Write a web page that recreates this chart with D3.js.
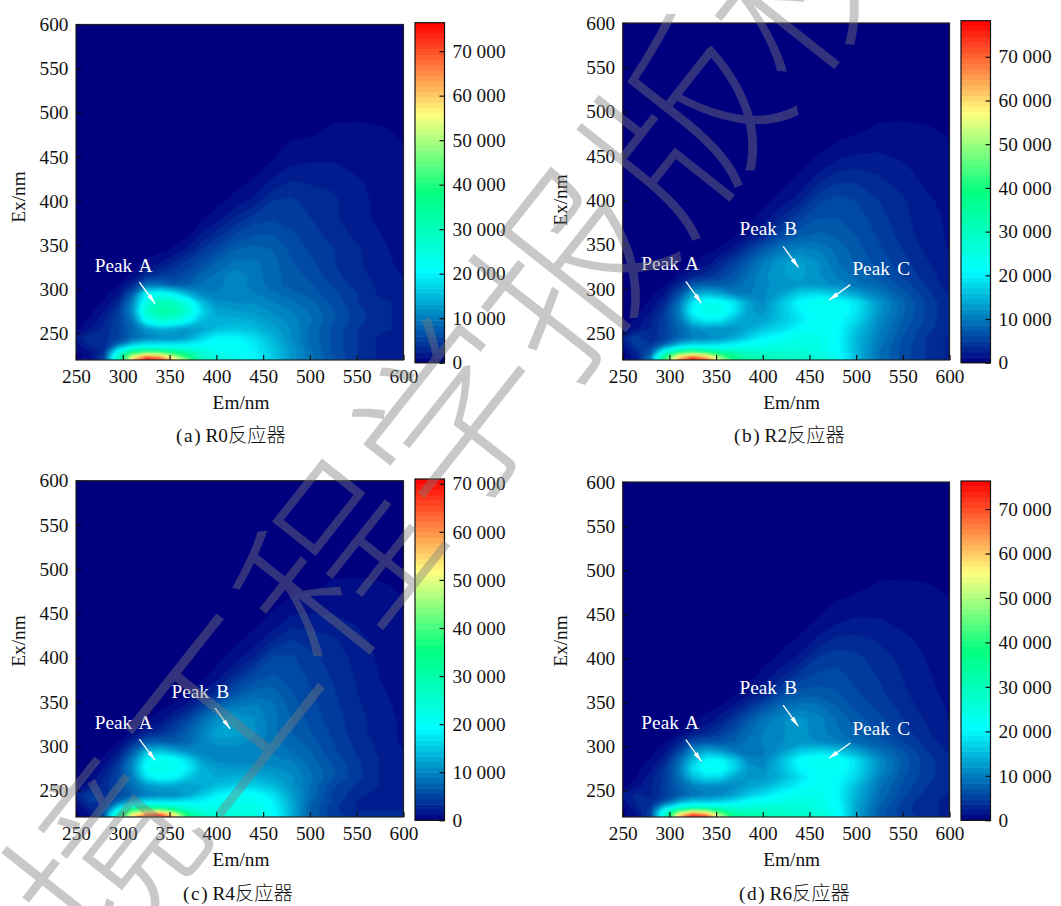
<!DOCTYPE html>
<html>
<head>
<meta charset="utf-8">
<script src="https://cdn.jsdelivr.net/npm/d3@7"></script>
<style>
body { margin: 0; background: #fff; }
text { font-family: "Liberation Serif", serif; }
</style>
</head>
<body>
<svg id="chart" width="1061" height="906"></svg>
<script>
// Grid of the EEM maps, values in units of 1000
const emGrid = [250,265,280,295,310,325,340,355,370,385,400,420,440,460,480,500,525,550,575,600];
const exGrid = [220,224,228,232,238,245,255,265,275,285,295,305,315,330,345,360,380,400,420,440,460,480,500,600];
const emTicks = [250,300,350,400,450,500,550,600];
const exTicks = [250,300,350,400,450,500,550,600];
const barTicks = [0,10000,20000,30000,40000,50000,60000,70000];

const r0Values = [
  [0,1,5,30,60,76,72,58,45,30,25,23,21,17,12,9,6.5,4,2.5,2],
  [0,1,5,28,52,66,62,50,38,28,24,22,20,16,12,9,6.5,4,2.5,2],
  [0,1,4,24,40,46,44,38,34,26,23,22,20,16,12,9,6,4,2.5,2],
  [.5,2,3,18,28,30,30,28,26,24,22,21,19,16,12,9,6,4,2.5,2],
  [1,3,3,8,15,18,18,18,19,20,21,21,19,15,11.5,8.5,6,4,2.5,2],
  [2,4,3.5,5,8,10,11,11,13,17,20,20,18,14.5,11,8.5,6,4,2.5,2],
  [0,1.5,3,5,8,12,14,13,12,13,15,16,15,13,11,8.5,6,4,3,2.5],
  [0,.5,2.5,5,9,22,27,25,21,15,14,14,13.5,12,10.5,9,6.5,4.5,3,2.5],
  [0,0,1.5,4.5,11,27,33,32,26,17,13,12.5,12,11,10,8.5,6.5,4.5,3,2.5],
  [0,0,.5,3,10,24,31,29,24,15,11.5,11,11,10,9,8,6,4,3,2.5],
  [0,0,0,1.5,7,20,22,19,14,10.5,10,10,10,9,8,7,5.5,4,2.5,2],
  [0,0,0,.3,3,9,9,7,7.5,9,9.5,10.5,9.5,8,7,6.5,5,3.5,2.5,1.5],
  [0,0,0,0,.5,3.5,4.5,5,6,8,9,11,9.5,8,7,6,4.5,3,2.5,1.5],
  [0,0,0,0,0,.5,1.5,3,4.5,6,7.5,9,9,8,6.5,5.5,4,3,2,1.2],
  [0,0,0,0,0,0,0,.5,2,4,5.5,7.5,8,7.5,6,5,4,3,1.8,1.1],
  [0,0,0,0,0,0,0,0,.3,2,3.5,5.5,6.5,6.5,5.5,4.5,3.5,2.5,1.6,1],
  [0,0,0,0,0,0,0,0,0,.2,1,3,4.5,5,4.5,4,3,2,1.3,.9],
  [0,0,0,0,0,0,0,0,0,0,0,.7,2,4,4.2,3.5,3,2,1.2,.9],
  [0,0,0,0,0,0,0,0,0,0,0,.1,.5,2,3,2.7,2.5,1.8,1,.8],
  [0,0,0,0,0,0,0,0,0,0,0,0,.1,.5,1.5,1.7,1.7,1.2,.9,.6],
  [0,0,0,0,0,0,0,0,0,0,0,0,0,.1,.6,.8,1,1,.7,.4],
  [0,0,0,0,0,0,0,0,0,0,0,0,0,0,0,.1,.6,.7,.5,.2],
  [0,0,0,0,0,0,0,0,0,0,0,0,0,0,0,0,0,0,0,0],
  [0,0,0,0,0,0,0,0,0,0,0,0,0,0,0,0,0,0,0,0]
];
const r2Values = [
  [0,2,10,42,66,78,70,52,38,33,31,30,29,27,23,15,9,6,4,2.5],
  [0,2.5,9,38,58,68,60,46,36,32,30,29,28,26,22,15,9,6,4,2.5],
  [0,3,7,28,42,46,42,36,32,30,28,28,27,25,22,15,9,6,4,2.5],
  [.5,4,6,18,26,29,28,27,26,26,26,26,26,24,21,15,9,6,4,2.5],
  [1.5,5,4,8,14,17,17,18,20,22,23,24,25,24,21,15,9.5,6,4,2.5],
  [3,5,3,5,8,10,11,12,14,17,20,22,24,24,21,15,10,6.5,4,2.5],
  [0,1.5,3,5,8,11,12,12,12,14,16,18,21,23,21,16,10.5,7,4.5,3],
  [0,.5,2.5,5,9,17,20,19,15,13,13,16,19,22,21,18,11,7.5,5,3],
  [0,0,1.5,4.5,10,21,24,24,19,13,12,16,20,22,22,19,12,8,5,3],
  [0,0,.5,3,9,19,23,22,19,13,11,16,21,23,22,19,12,8,5,3],
  [0,0,0,1.5,6,13,15,13,10,10,11,13,17,18,16,13,10,7,4.5,2.5],
  [0,0,0,.2,3,7,7.5,7.5,8,9.5,11,12,12.5,12,11,9.5,8,6,4,2],
  [0,0,0,0,.5,2.5,3.5,5,7,9,11,12.5,13,11.5,10,8.5,7,5,3.5,2],
  [0,0,0,0,0,.3,1,3,5,7.5,10,12.5,13,11.5,9,7.5,6,4.5,3,1.7],
  [0,0,0,0,0,0,0,.5,2,4.5,7,9.5,10.5,10,8.5,7,5.5,4,2.5,1.5],
  [0,0,0,0,0,0,0,0,.3,1.5,3,6,7.5,8,7.5,6.5,5,3.5,2.2,1.4],
  [0,0,0,0,0,0,0,0,0,0,.8,3,5,6.5,6.5,6,4.5,3.2,2,1.4],
  [0,0,0,0,0,0,0,0,0,0,0,.8,2.5,5,5.8,5.2,4,3,1.8,1.2],
  [0,0,0,0,0,0,0,0,0,0,0,.1,.7,2.8,4,4,3.2,2.3,1.4,1],
  [0,0,0,0,0,0,0,0,0,0,0,0,.1,.8,2,2.5,2.2,1.7,1.1,.8],
  [0,0,0,0,0,0,0,0,0,0,0,0,0,.1,.6,1,1.3,1.1,.8,.5],
  [0,0,0,0,0,0,0,0,0,0,0,0,0,0,0,.1,.6,.7,.5,.2],
  [0,0,0,0,0,0,0,0,0,0,0,0,0,0,0,0,0,0,0,0],
  [0,0,0,0,0,0,0,0,0,0,0,0,0,0,0,0,0,0,0,0]
];
const r4Values = [
  [0,1,6,28,54,66,71,56,36,26,24,24,23,20,13,7,4,3.5,3.5,3.5],
  [0,1.5,6,26,48,58,60,48,32,25,23,24,23,20,13,7,4,3,3,3],
  [0,2,5,20,36,40,40,34,27,23,22,23,22,19,13,7,4,2.5,2.5,2.5],
  [.5,3,4,14,24,27,27,25,22,21,21,22,22,19,13,7,4,2.5,2,2],
  [1,4,3.5,7,13,16,16,16,17,18,20,21,21,18,12.5,7.5,4.5,2.5,2,2],
  [2.5,4.5,3,5,7,9,10,10,12,15,18,20,20,17,12,8,4.5,3,2,2],
  [0,1.5,3,5,8,11,12,12,11.5,12.5,14,15.5,15.5,14,11,8,5,3.5,2.5,2],
  [0,.5,2.5,5,9,17,20,19,15,13,12.5,13,13,12,10.5,8.5,6,4,2.5,2],
  [0,0,1.5,4.5,10,20,22,21,18,13,11.5,11,11,10.5,10,8,6,4,2.5,2],
  [0,0,.5,3,9,18,21,20,16,11.5,10,9.5,9.5,9.5,9,7.5,5.5,3.8,2.5,1.8],
  [0,0,0,1.5,6,13,14,12,10,9.5,9.5,9.5,9.5,9,8,7,5,3.5,2.3,1.5],
  [0,0,0,.2,3,6.5,7,6.5,7.5,9.5,11,11,10,8.5,7.5,6.5,4.8,3.3,2.2,1.2],
  [0,0,0,0,.5,2.5,3.5,5,7,9.5,12,12,10.5,8.5,7,6,4.5,3,2,1.2],
  [0,0,0,0,0,.3,1,3,5,8,10.5,11.5,10.5,8.5,7,5.5,4.2,3,2,1.2],
  [0,0,0,0,0,0,0,.5,2,4.5,7,9,9.5,8.5,6.5,5.2,4,2.8,1.8,1.1],
  [0,0,0,0,0,0,0,0,.3,1.5,3,6,7.5,7.5,6,5,3.8,2.6,1.6,1],
  [0,0,0,0,0,0,0,0,0,0,.8,3,5,6,5.5,4.5,3.5,2.4,1.4,.9],
  [0,0,0,0,0,0,0,0,0,0,0,.8,2.5,5,5,4,3.2,2.2,1.2,.9],
  [0,0,0,0,0,0,0,0,0,0,0,.1,.7,2.5,3.7,3.3,2.7,1.9,1,.8],
  [0,0,0,0,0,0,0,0,0,0,0,0,.1,.7,2,2,1.8,1.3,.9,.6],
  [0,0,0,0,0,0,0,0,0,0,0,0,0,.1,.6,.9,1,1,.7,.4],
  [0,0,0,0,0,0,0,0,0,0,0,0,0,0,0,.1,.6,.7,.5,.2],
  [0,0,0,0,0,0,0,0,0,0,0,0,0,0,0,0,0,0,0,0],
  [0,0,0,0,0,0,0,0,0,0,0,0,0,0,0,0,0,0,0,0]
];
const r6Values = [
  [0,1,5,26,62,76,72,52,35,32,31,29,27,26,22,13,7,5,3.5,2.5],
  [0,1.5,5,26,52,66,60,44,33,31,30,28,27,26,22,13,7,4.5,3,2.5],
  [0,2,4.5,22,36,42,40,34,29,28,28,27,26,25,21,13,7,4.5,3,2.5],
  [.3,2.5,4,14,22,25,25,24,24,25,25,26,26,24,21,13,7.5,4.5,3,2.5],
  [1,3,3,6.5,12,15,15,16,18,21,22,23,24,24,20,13.5,8,5,3,2.5],
  [2,3,2.5,4.5,7,9,10,11,13,16,18,21,23,23,20,14,8.5,5.5,3.5,2.5],
  [0,1,2.5,4.5,7.5,10,11,11,11,13,14,17,20,22,20,15,9,6,4,3],
  [0,.3,2.2,4.5,8.5,15,18,17,13,12,12,14,18,21,20.5,17,10,6.5,4.5,3],
  [0,0,1.3,4,9,18,22,22,17,12,11,15,20,22,22,18,11,7,4.5,3],
  [0,0,.4,2.5,8,15,20,20,16,10.5,10,15,21,23,22,18,11,7,4.5,3],
  [0,0,0,1.2,5,11,13.5,12,9.5,9,9.5,12,16,17,16,13,9,6.5,4,2.5],
  [0,0,0,.2,2.5,6,6.5,6.5,7.5,9,10,11,11.5,11,10,8.5,7,5.3,3.5,2],
  [0,0,0,0,.4,2,3,4.5,6.5,8.5,10,11,11.5,10.5,9,7.5,6,4.5,3,1.7],
  [0,0,0,0,0,.2,.8,2.5,4.5,7,9,11,11.5,10.5,8.5,7,5.5,4,2.6,1.5],
  [0,0,0,0,0,0,0,.4,1.8,4,6,8.5,9.5,9,7.5,6,4.8,3.5,2.2,1.4],
  [0,0,0,0,0,0,0,0,.2,1.2,2.5,5.5,6.8,7,6.5,5.3,4.2,3,1.9,1.2],
  [0,0,0,0,0,0,0,0,0,0,.7,2.5,4.5,5.5,5.5,4.8,3.8,2.7,1.7,1.1],
  [0,0,0,0,0,0,0,0,0,0,0,.6,2,4.2,4.8,4.3,3.3,2.4,1.5,1],
  [0,0,0,0,0,0,0,0,0,0,0,.1,.5,2,3.2,3.2,2.6,1.9,1.2,.9],
  [0,0,0,0,0,0,0,0,0,0,0,0,.1,.5,1.5,1.9,1.7,1.3,1,.7],
  [0,0,0,0,0,0,0,0,0,0,0,0,0,.1,.5,.9,1.1,1,.8,.5],
  [0,0,0,0,0,0,0,0,0,0,0,0,0,0,0,.1,.6,.7,.5,.2],
  [0,0,0,0,0,0,0,0,0,0,0,0,0,0,0,0,0,0,0,0],
  [0,0,0,0,0,0,0,0,0,0,0,0,0,0,0,0,0,0,0,0]
];

// Annotations in Em/Ex coordinates: [label, textEm, textEx, fromEm, fromEx, toEm, toEx]
const r0Peaks = [["Peak A",270,320,317.7,308.3,334.5,284]];
const r2Peaks = [
  ["Peak A",270,321,317.6,308.7,334.3,284],
  ["Peak B",375,361,421.8,348,438.2,324.5],
  ["Peak C",496,315.5,493.8,305,471,287.5]
];
const r4Peaks = [
  ["Peak A",270,320,317.7,308,334.5,284],
  ["Peak B",352,354.7,398.6,343.4,414.6,319.6]
];
const r6Peaks = [
  ["Peak A",270,320,317.6,307.7,334.3,283],
  ["Peak B",375,359,421.8,347,437.9,323],
  ["Peak C",496,313.5,493.8,304,471,286.6]
];

const barMax = [76400, 78260, 71000, 76300];
const captions = ["(\u200aa\u200a) R0", "(\u200ab\u200a) R2", "(\u200ac\u200a) R4", "(\u200ad\u200a) R6"];
const captionSuffix = "反应器";
const watermark = ["境", "工", "程", "学", "报", "版", "权"];

// Colour stops of the colorbar, as fraction of its top value
const colorStops = [0, .27, .5, .73, 1];
const colorValues = ["#00007f", "#00ffff", "#00ff7f", "#ffff7f", "#ff0000"];
const levelCount = 64;

const panels = [
  { values: r0Values, peaks: r0Peaks, left: 76, right: 403.5, top: 24.5, bottom: 360, barLeft: 415, barTop: 22.7, barBottom: 362.7,
    exLabelX: 25, exLabelY: 197, emLabelX: 241, emLabelY: 409, capX: 176, capY: 441.5 },
  { values: r2Values, peaks: r2Peaks, left: 622.7, right: 949.5, top: 23, bottom: 360, barLeft: 961, barTop: 20.7, barBottom: 362.7,
    exLabelX: 567, exLabelY: 200, emLabelX: 791.7, emLabelY: 409, capX: 734, capY: 441.5 },
  { values: r4Values, peaks: r4Peaks, left: 76, right: 403.5, top: 480.7, bottom: 817, barLeft: 415, barTop: 479, barBottom: 820.3,
    exLabelX: 25, exLabelY: 641, emLabelX: 241, emLabelY: 865.7, capX: 183, capY: 900.3 },
  { values: r6Values, peaks: r6Peaks, left: 622.7, right: 949.5, top: 482, bottom: 817, barLeft: 961, barTop: 481, barBottom: 820.3,
    exLabelX: 567, exLabelY: 641, emLabelX: 791.7, emLabelY: 865.7, capX: 739, capY: 900.3 }
];

const svg = d3.select("#chart");
const barWidth = 29.5;
const fontSize = 19.3;

const defs = svg.append("defs");
defs.append("filter").attr("id", "soften")
  .attr("x", "-5%").attr("y", "-5%").attr("width", "110%").attr("height", "110%")
  .append("feGaussianBlur").attr("stdDeviation", 1.3);
const arrowHead = defs.append("marker").attr("id", "arrow")
  .attr("viewBox", "0 0 10 6").attr("refX", 10).attr("refY", 3)
  .attr("markerUnits", "userSpaceOnUse").attr("markerWidth", 10).attr("markerHeight", 6)
  .attr("orient", "auto");
arrowHead.append("path").attr("d", "M0,0.6L10,3L0,5.4Z").attr("fill", "#fff");

// Repeat the border of the grid outside the frame, so the blur does not fade at the edges
const paddedEm = [235, ...emGrid, 615];
const paddedEx = [205, ...exGrid];

const drawPanel = (panel, i) => {
  const x = d3.scaleLinear().domain([250, 600]).range([panel.left, panel.right]);
  const y = d3.scaleLinear().domain([220, 600]).range([panel.bottom, panel.top]);
  const maxValue = barMax[i];
  const color = d3.scaleLinear().domain(colorStops.map(s => s * maxValue)).range(colorValues).clamp(true);
  const g = svg.append("g");

  const rows = [panel.values[0], ...panel.values].map(r => [r[0], ...r, r[r.length - 1]]);
  const flat = rows.flat().map(v => v * 1000);
  const nx = paddedEm.length, ny = paddedEx.length;

  // d3.contours puts cell i at i + 0.5
  const toEm = d3.scaleLinear().domain(d3.range(nx).map(k => k + .5)).range(paddedEm);
  const toEx = d3.scaleLinear().domain(d3.range(ny).map(k => k + .5)).range(paddedEx);
  const path = d3.geoPath(d3.geoTransform({
    point(px, py) { this.stream.point(x(toEm(px)), y(toEx(py))); }
  }));

  const step = maxValue / levelCount;
  const levels = d3.range(1, levelCount).map(k => k * step - step * .7);
  const bands = d3.contours().size([nx, ny]).thresholds(levels)(flat);

  const clipId = `plot-${i}`;
  defs.append("clipPath").attr("id", clipId).append("rect")
    .attr("x", panel.left).attr("y", panel.top)
    .attr("width", panel.right - panel.left).attr("height", panel.bottom - panel.top);

  g.append("rect")
    .attr("x", panel.left).attr("y", panel.top)
    .attr("width", panel.right - panel.left).attr("height", panel.bottom - panel.top)
    .attr("fill", colorValues[0]);

  g.append("g").attr("clip-path", `url(#${clipId})`)
    .append("g").attr("filter", "url(#soften)")
    .selectAll("path").data(bands).enter().append("path")
    .attr("d", path)
    .attr("fill", d => color(d.value + step * .7));

  g.append("rect")
    .attr("x", panel.left).attr("y", panel.top)
    .attr("width", panel.right - panel.left).attr("height", panel.bottom - panel.top)
    .attr("fill", "none").attr("stroke", "#222").attr("stroke-width", 1.2);

  const xAxis = g.append("g").attr("transform", `translate(0,${panel.bottom})`)
    .call(d3.axisBottom(x).tickValues(emTicks).tickSize(-5).tickPadding(9));
  const yAxis = g.append("g").attr("transform", `translate(${panel.left},0)`)
    .call(d3.axisLeft(y).tickValues(exTicks).tickSize(-5).tickPadding(7.5));

  // Colorbar
  const barRight = panel.barLeft + barWidth;
  const barY = d3.scaleLinear().domain([0, maxValue]).range([panel.barBottom, panel.barTop]);
  g.append("g").selectAll("rect").data(d3.range(levelCount)).enter().append("rect")
    .attr("x", panel.barLeft)
    .attr("width", barWidth)
    .attr("y", k => barY((k + 1) * step))
    .attr("height", k => barY(k * step) - barY((k + 1) * step) + .5)
    .attr("fill", k => color((k + .5) * step));
  g.append("rect")
    .attr("x", panel.barLeft).attr("y", panel.barTop)
    .attr("width", barWidth).attr("height", panel.barBottom - panel.barTop)
    .attr("fill", "none").attr("stroke", "#111").attr("stroke-width", 1.2);
  const barAxis = g.append("g").attr("transform", `translate(${barRight},0)`)
    .call(d3.axisRight(barY).tickValues(barTicks).tickSize(-5).tickPadding(8)
      .tickFormat(v => v === 0 ? "0" : `${v / 1000} 000`));

  [xAxis, yAxis, barAxis].forEach(a => {
    a.select(".domain").remove();
    a.selectAll("line").attr("stroke", "#111").attr("stroke-width", 1.2);
    a.selectAll("text").attr("fill", "#111")
      .style("font-family", '"Liberation Serif", serif').style("font-size", `${fontSize}px`);
  });

  g.append("text").attr("x", panel.emLabelX).attr("y", panel.emLabelY)
    .attr("text-anchor", "middle").attr("fill", "#111").style("font-size", `${fontSize}px`).text("Em/nm");
  g.append("text")
    .attr("transform", `translate(${panel.exLabelX},${panel.exLabelY}) rotate(-90)`)
    .attr("text-anchor", "middle").attr("fill", "#111").style("font-size", `${fontSize}px`).text("Ex/nm");

  const caption = g.append("text").attr("x", panel.capX).attr("y", panel.capY)
    .attr("fill", "#111").style("font-size", `${fontSize}px`);
  caption.append("tspan").text(captions[i]);
  caption.append("tspan").style("font-family", '"Noto Sans CJK SC"').style("font-weight", 300).text(captionSuffix);

  // Peak labels and arrows
  const peak = g.append("g").selectAll("g").data(panel.peaks).enter().append("g");
  peak.append("text")
    .attr("x", d => x(d[1])).attr("y", d => y(d[2]))
    .attr("fill", "#fff").style("font-size", `${fontSize}px`).style("word-spacing", "2.5px").text(d => d[0]);
  peak.append("line")
    .attr("x1", d => x(d[3])).attr("y1", d => y(d[4]))
    .attr("x2", d => x(d[5])).attr("y2", d => y(d[6]))
    .attr("stroke", "#fff").attr("stroke-width", 1.3).attr("marker-end", "url(#arrow)");
};

panels.forEach(drawPanel);

// Watermark laid over the whole figure
const markAngle = -51.6;
const markStart = [95, 850];
const markStep = 187;
const markRad = markAngle * Math.PI / 180;
svg.append("g").selectAll("text").data(watermark).enter().append("text")
  .attr("transform", (d, k) => `translate(${markStart[0] + k * markStep * Math.cos(markRad)},${markStart[1] + k * markStep * Math.sin(markRad)}) rotate(${markAngle})`)
  .attr("text-anchor", "middle")
  .attr("dominant-baseline", "central")
  .attr("fill", "rgb(122,122,122)")
  .attr("fill-opacity", .416)
  .style("font-family", '"Noto Sans CJK SC"')
  .style("font-weight", 300)
  .style("font-size", "185px")
  .text(d => d);
</script>
</body>
</html>
